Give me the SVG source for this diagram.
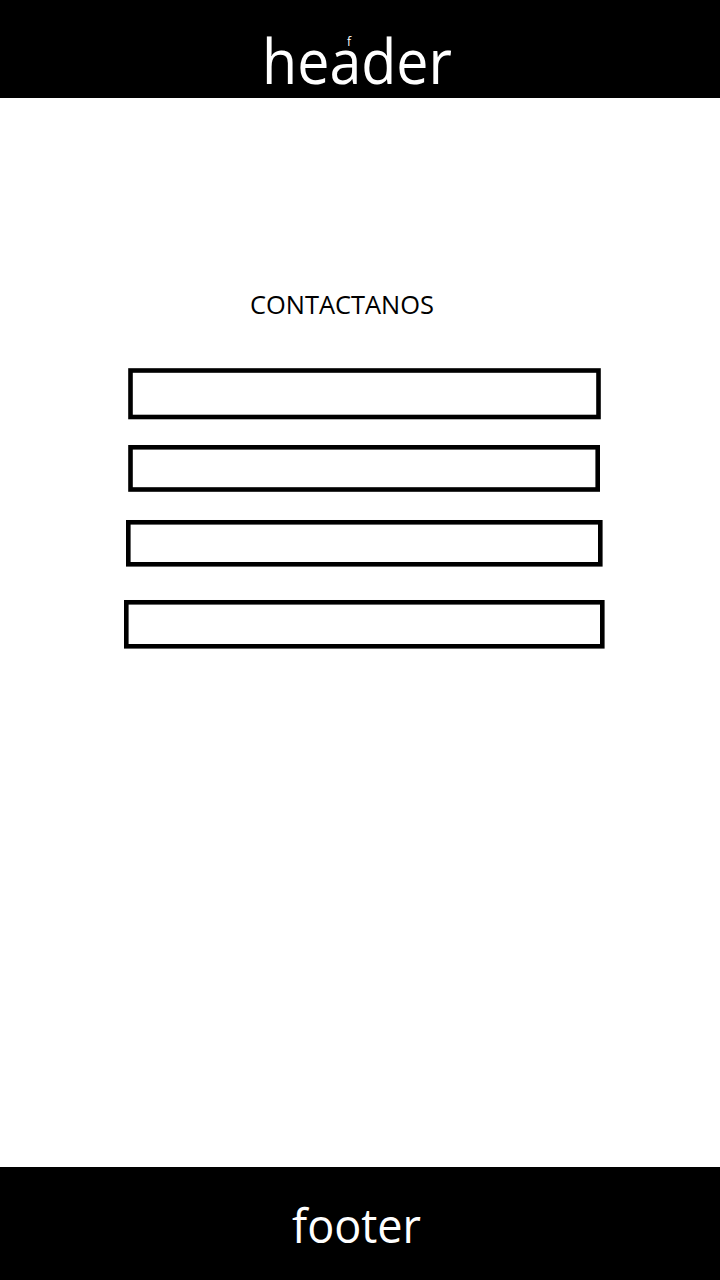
<svg xmlns="http://www.w3.org/2000/svg" width="720" height="1280" viewBox="0 0 720 1280">
<style>
.bar{fill:#000}
.wt{fill:#fff;font-family:"Open Sans","Noto Sans",sans-serif}
.field{fill:#fff;stroke:#000;stroke-width:4.6}
.title{fill:#000;font-family:"Open Sans","Noto Sans",sans-serif;font-size:25px}
</style>
<rect width="720" height="1280" fill="#fff"/>
<g id="header">
<rect class="bar" x="0" y="0" width="720" height="98"/>
<text class="wt" x="262" y="84" font-size="62" textLength="190" lengthAdjust="spacingAndGlyphs">header</text>
<text class="wt" x="347" y="46" font-size="12">f</text>
</g>
<g id="title">
<text class="title" x="250" y="314" textLength="184" lengthAdjust="spacingAndGlyphs">CONTACTANOS</text>
</g>
<g id="field1"><rect class="field" x="130.5" y="370.5" width="468" height="46.5"/></g>
<g id="field2"><rect class="field" x="130.5" y="447.3" width="467.2" height="42.2"/></g>
<g id="field3"><rect class="field" x="128.3" y="522.3" width="472" height="42"/></g>
<g id="field4"><rect class="field" x="126.3" y="602.3" width="476" height="44"/></g>
<g id="connectors"></g>
<g id="footer">
<rect class="bar" x="0" y="1167" width="720" height="113"/>
<text class="wt" x="292" y="1243" font-size="47" textLength="129" lengthAdjust="spacingAndGlyphs">footer</text>
</g>
</svg>
